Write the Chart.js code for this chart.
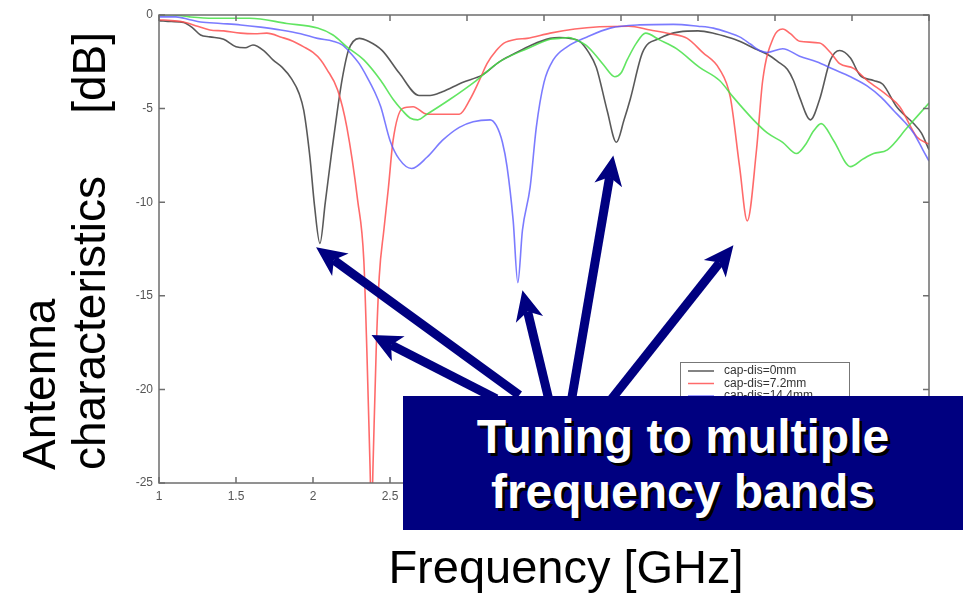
<!DOCTYPE html>
<html lang="en">
<head>
  <meta charset="UTF-8">
  <script src="https://cdn.jsdelivr.net/npm/chart.js@4.4.0/dist/chart.umd.min.js"></script>
  <title>Antenna characteristics</title>
  <style>
    body { margin: 0; background: #fff; }
    #wrap { position: relative; width: 965px; height: 598px; overflow: hidden; font-family: "Liberation Sans", Arial, sans-serif; }
    #myChart { position: absolute; left: 0; top: 0; }
    .ylab { position: absolute; left: 14px; top: 470px; width: 438px; transform-origin: top left; transform: rotate(-90deg);
            font-size: 46px; line-height: 50px; color: #000; white-space: nowrap; }
    .ylab .row2 { display: flex; justify-content: space-between; }
    .xlab { position: absolute; left: 366px; width: 400px; top: 543px; text-align: center; font-size: 47px; line-height: 47px; color: #000; }
    .box { position: absolute; left: 403px; top: 396px; width: 560px; height: 134px; background: #000080; color: #fff;
           font-weight: bold; font-size: 48px; line-height: 55px; text-align: center; text-shadow: 3px 3px 0 #000; }
    .box div:first-child { margin-top: 13px; }
  </style>
</head>
<body>
  <div id="wrap">
    <canvas id="myChart" width="965" height="598"></canvas>
    <div class="ylab">
      <div>Antenna</div>
      <div class="row2"><span>characteristics</span><span>[dB]</span></div>
    </div>
    <div class="xlab">Frequency [GHz]</div>
    <div class="box">
      <div>Tuning to multiple</div>
      <div>frequency bands</div>
    </div>
  </div>

  <script>
    // values (GHz / dB)
    const blackFreq = [1.0,1.08,1.16,1.22,1.27,1.33,1.42,1.5,1.56,1.61,1.68,1.74,1.8,1.86,1.91,1.94,1.98,2.01,2.045,2.08,2.12,2.16,2.19,2.23,2.3,2.36,2.45,2.56,2.69,2.76,2.84,2.97,3.1,3.21,3.3,3.42,3.54,3.6,3.67,3.73,3.79,3.84,3.91,3.97,4.02,4.06,4.14,4.25,4.38,4.5,4.6,4.7,4.77,4.87,4.95,5.02,5.08,5.12,5.16,5.23,5.29,5.36,5.42,5.49,5.55,5.64,5.7,5.79,5.9,5.95,6.0];
    const blackDb = [-0.3,-0.35,-0.4,-0.7,-1.07,-1.17,-1.3,-1.7,-1.75,-1.6,-1.9,-2.4,-2.8,-3.4,-4.2,-5.1,-7.6,-10.2,-12.2,-10,-7.4,-5.0,-3.4,-1.9,-1.25,-1.4,-1.9,-3.1,-4.3,-4.3,-4.1,-3.6,-3.2,-2.5,-2.1,-1.6,-1.25,-1.2,-1.25,-1.4,-2.0,-2.8,-5.1,-6.8,-5.6,-4.5,-2.0,-1.25,-0.9,-0.85,-0.97,-1.2,-1.4,-1.8,-2.1,-2.5,-2.9,-3.5,-4.4,-5.6,-4.5,-2.4,-1.9,-2.3,-3.2,-3.5,-3.7,-4.9,-5.8,-6.3,-7.2];

    const redFreq = [1.0,1.08,1.16,1.25,1.33,1.42,1.53,1.62,1.7,1.8,1.87,1.94,2.0,2.05,2.09,2.16,2.22,2.29,2.33,2.35,2.37,2.38,2.39,2.41,2.43,2.46,2.49,2.52,2.58,2.65,2.74,2.85,2.95,3.02,3.08,3.13,3.19,3.24,3.32,3.39,3.54,3.7,3.86,4.05,4.19,4.32,4.43,4.53,4.64,4.71,4.77,4.82,4.88,4.92,4.99,5.05,5.1,5.16,5.29,5.36,5.42,5.51,5.6,5.73,5.81,5.92,6.0];
    const redDb = [-0.25,-0.3,-0.37,-0.6,-0.8,-0.85,-0.97,-1.0,-0.97,-1.2,-1.4,-1.7,-2.0,-2.4,-2.9,-4.0,-6.0,-9.9,-13.1,-18,-24,-27,-24,-18,-14,-11.5,-9.2,-6.7,-5.0,-4.9,-5.3,-5.3,-5.3,-4.5,-3.5,-2.6,-1.9,-1.5,-1.3,-1.25,-0.97,-0.75,-0.63,-0.6,-0.8,-1.0,-1.25,-2.0,-2.9,-4.4,-8.1,-11.0,-7.2,-3.5,-1.2,-0.75,-1.0,-1.4,-1.5,-2.0,-2.6,-2.85,-3.5,-4.3,-4.9,-6.5,-6.9];

    const blueFreq = [1.0,1.11,1.2,1.27,1.4,1.53,1.66,1.79,1.92,2.03,2.13,2.19,2.24,2.3,2.35,2.4,2.44,2.5,2.56,2.64,2.74,2.84,2.95,3.04,3.15,3.19,3.23,3.26,3.3,3.33,3.36,3.41,3.45,3.5,3.56,3.65,3.78,3.93,4.12,4.34,4.5,4.6,4.7,4.77,4.84,4.9,4.95,5.05,5.16,5.27,5.38,5.49,5.6,5.69,5.77,5.84,5.9,5.96,6.0];
    const blueDb = [-0.1,-0.1,-0.25,-0.37,-0.45,-0.53,-0.65,-0.8,-1.0,-1.25,-1.4,-1.6,-2.0,-2.6,-3.3,-4.1,-4.9,-6.7,-7.7,-8.2,-7.6,-6.7,-6.0,-5.7,-5.6,-5.9,-6.8,-8.1,-11,-14.3,-11.5,-9.2,-6.0,-3.6,-2.4,-1.7,-1.17,-0.7,-0.53,-0.5,-0.6,-0.7,-0.95,-1.17,-1.55,-1.9,-2.0,-1.8,-2.2,-2.5,-2.9,-3.3,-3.8,-4.4,-5.1,-5.7,-6.3,-7.2,-7.8];

    const greenFreq = [1.0,1.09,1.2,1.35,1.59,1.83,2.03,2.13,2.22,2.33,2.44,2.52,2.58,2.63,2.68,2.74,2.89,3.06,3.21,3.39,3.54,3.6,3.66,3.71,3.77,3.82,3.89,3.96,4.0,4.04,4.1,4.16,4.25,4.36,4.51,4.64,4.73,4.86,4.95,5.05,5.14,5.2,5.25,5.3,5.38,5.49,5.57,5.64,5.73,5.86,6.0];
    const greenDb = [0,0,-0.1,-0.17,-0.17,-0.45,-0.7,-1.07,-1.7,-2.4,-3.5,-4.5,-5.1,-5.5,-5.6,-5.3,-4.5,-3.5,-2.5,-1.8,-1.3,-1.25,-1.2,-1.33,-1.6,-2.0,-2.7,-3.3,-3.1,-2.4,-1.5,-0.97,-1.33,-1.8,-2.8,-3.5,-4.4,-5.6,-6.3,-6.8,-7.4,-6.9,-6.2,-5.8,-6.7,-8.1,-7.7,-7.4,-7.2,-6.0,-4.7];

    const seriesNames = ['cap-dis=0mm', 'cap-dis=7.2mm', 'cap-dis=14.4mm', 'cap-dis=21.6mm'];
    const seriesColors = ['rgba(60,60,60,0.85)', 'rgba(255,80,80,0.85)', 'rgba(90,90,255,0.8)', 'rgba(70,225,70,0.85)'];

    // arrows: [fromFreq, fromDb, toFreq, toDb]
    const arrows = [
      [3.34, -20.3, 2.02, -12.4],
      [3.19, -20.5, 2.38, -17.1],
      [3.53, -20.5, 3.36, -14.7],
      [3.68, -20.5, 3.95, -7.5],
      [3.94, -20.5, 4.73, -12.3]
    ];

    function pairs(xs, ys) {
      return xs.map((x, i) => ({ x: x, y: ys[i] }));
    }

    const framePlugin = {
      id: 'frame',
      afterDatasetsDraw(chart) {
        const { ctx, chartArea: a, scales } = chart;
        ctx.save();
        ctx.strokeStyle = '#6e6e6e';
        ctx.lineWidth = 1.5;
        ctx.strokeRect(a.left, a.top, a.right - a.left, a.bottom - a.top);
        ctx.beginPath();
        scales.x.ticks.forEach(t => {
          const px = scales.x.getPixelForValue(t.value);
          ctx.moveTo(px, a.bottom); ctx.lineTo(px, a.bottom - 6);
          ctx.moveTo(px, a.top); ctx.lineTo(px, a.top + 6);
        });
        scales.y.ticks.forEach(t => {
          const py = scales.y.getPixelForValue(t.value);
          ctx.moveTo(a.left, py); ctx.lineTo(a.left + 6, py);
          ctx.moveTo(a.right, py); ctx.lineTo(a.right - 6, py);
        });
        ctx.stroke();

        // legend box (upper part visible, rest hidden under the caption box)
        const lx = a.right - 249, ly = 362;
        ctx.fillStyle = '#fff';
        ctx.fillRect(lx, ly, 169, 60);
        ctx.strokeStyle = '#777';
        ctx.lineWidth = 1;
        ctx.strokeRect(lx + 0.5, ly + 0.5, 169, 60);
        ctx.font = '12px "Liberation Sans", Arial, sans-serif';
        ctx.textBaseline = 'middle';
        seriesNames.forEach((name, i) => {
          const y = ly + 9 + i * 12.5;
          ctx.strokeStyle = seriesColors[i];
          ctx.lineWidth = 1.5;
          ctx.beginPath(); ctx.moveTo(lx + 8, y); ctx.lineTo(lx + 34, y); ctx.stroke();
          ctx.fillStyle = '#333';
          ctx.fillText(name, lx + 44, y);
        });

        // arrows pointing at the resonances
        ctx.fillStyle = '#000080';
        ctx.strokeStyle = '#000080';
        arrows.forEach(ar => {
          const x0 = scales.x.getPixelForValue(ar[0]), y0 = scales.y.getPixelForValue(ar[1]);
          const x1 = scales.x.getPixelForValue(ar[2]), y1 = scales.y.getPixelForValue(ar[3]);
          const ang = Math.atan2(y1 - y0, x1 - x0);
          const head = 30, half = 14, notch = 8;
          const bx = x1 - head * Math.cos(ang), by = y1 - head * Math.sin(ang);
          ctx.lineWidth = 9;
          ctx.beginPath();
          ctx.moveTo(x0, y0);
          ctx.lineTo(bx + notch * Math.cos(ang), by + notch * Math.sin(ang));
          ctx.stroke();
          const nx = -Math.sin(ang), ny = Math.cos(ang);
          ctx.beginPath();
          ctx.moveTo(x1, y1);
          ctx.lineTo(bx + half * nx, by + half * ny);
          ctx.lineTo(bx + notch * Math.cos(ang), by + notch * Math.sin(ang));
          ctx.lineTo(bx - half * nx, by - half * ny);
          ctx.closePath();
          ctx.fill();
        });
        ctx.restore();
      }
    };

    const ctx = document.getElementById('myChart');
    const myChart = new Chart(ctx, {
      type: 'line',
      data: {
        datasets: [
          { label: seriesNames[0], data: pairs(blackFreq, blackDb), borderColor: seriesColors[0] },
          { label: seriesNames[1], data: pairs(redFreq, redDb), borderColor: seriesColors[1] },
          { label: seriesNames[2], data: pairs(blueFreq, blueDb), borderColor: seriesColors[2] },
          { label: seriesNames[3], data: pairs(greenFreq, greenDb), borderColor: seriesColors[3] }
        ].reverse()
      },
      options: {
        responsive: false,
        animation: false,
        layout: { padding: { top: 15, right: 36, left: 0, bottom: 0 } },
        datasets: { line: { borderWidth: 1.6, pointRadius: 0, fill: false, cubicInterpolationMode: 'monotone' } },
        plugins: { legend: { display: false }, tooltip: { enabled: false } },
        scales: {
          x: {
            type: 'linear', min: 1, max: 6,
            afterFit: s => { s.height = 115; },
            grid: { display: false, drawTicks: false },
            border: { display: false },
            ticks: { stepSize: 0.5, padding: 6, color: '#555', font: { family: 'Liberation Sans', size: 12 },
                     callback: v => String(Math.round(v * 10) / 10) }
          },
          y: {
            min: -25, max: 0,
            afterFit: s => { s.width = 159; },
            grid: { display: false, drawTicks: false },
            border: { display: false },
            ticks: { stepSize: 5, padding: 6, color: '#555', font: { family: 'Liberation Sans', size: 12 } }
          }
        }
      },
      plugins: [framePlugin]
    });
  </script>
</body>
</html>
